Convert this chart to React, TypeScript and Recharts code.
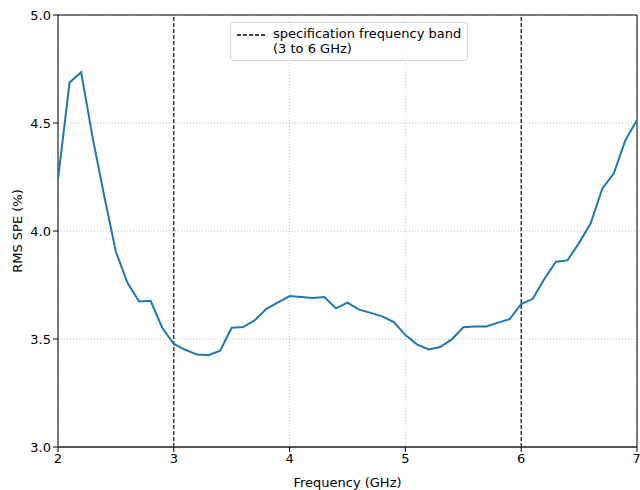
import React from 'react';
import { LineChart, Line, XAxis, YAxis, CartesianGrid, ReferenceLine, Label } from 'recharts';

// frequency sweep, 0.1 GHz steps
const frequency = [
  2.0, 2.1, 2.2, 2.3, 2.4, 2.5, 2.6, 2.7, 2.8, 2.9,
  3.0, 3.1, 3.2, 3.3, 3.4, 3.5, 3.6, 3.7, 3.8, 3.9,
  4.0, 4.1, 4.2, 4.3, 4.4, 4.5, 4.6, 4.7, 4.8, 4.9,
  5.0, 5.1, 5.2, 5.3, 5.4, 5.5, 5.6, 5.7, 5.8, 5.9,
  6.0, 6.1, 6.2, 6.3, 6.4, 6.5, 6.6, 6.7, 6.8, 6.9,
  7.0,
];

const rmsSpe = [
  4.24, 4.687, 4.735, 4.43, 4.16, 3.904, 3.76, 3.674, 3.677, 3.552,
  3.477, 3.45, 3.428, 3.425, 3.446, 3.552, 3.555, 3.587, 3.64, 3.67,
  3.699, 3.695, 3.69, 3.694, 3.642, 3.668, 3.636, 3.621, 3.605, 3.578,
  3.518, 3.475, 3.452, 3.463, 3.498, 3.554, 3.558, 3.558, 3.576, 3.592,
  3.662, 3.686, 3.778, 3.858, 3.864, 3.945, 4.036, 4.196, 4.267, 4.42,
  4.514,
];

const xTicks = [2, 3, 4, 5, 6, 7];
const yTicks = [3.0, 3.5, 4.0, 4.5, 5.0];
const bandEdges = [3, 6];

const data = frequency.map((f, i) => ({ f, spe: rmsSpe[i] }));

const font = 'DejaVu Sans, sans-serif';
const fontSize = 13;
const tickStyle = { fontSize, fill: '#000', fontFamily: font };

const BandLegend = () => (
  <div
    style={{
      position: 'absolute',
      left: 230,
      top: 22,
      border: '1px solid #d6d6d6',
      borderRadius: 3,
      background: 'rgba(255,255,255,0.85)',
      padding: '3px 6px 4px 6px',
      display: 'flex',
      alignItems: 'flex-start',
      fontFamily: font,
      fontSize,
      lineHeight: '15px',
      color: '#000',
    }}
  >
    <svg width={28} height={15} style={{ marginRight: 8, flex: 'none' }}>
      <line x1={0} x2={28} y1={9} y2={9} stroke="#000" strokeWidth={1.3} strokeDasharray="4 2" />
    </svg>
    <div>
      specification frequency band
      <br />
      (3 to 6 GHz)
    </div>
  </div>
);

export default function App() {
  return (
    <div style={{ position: 'absolute', left: 0, top: 0, width: 640, height: 490, background: '#fff' }}>
      <LineChart width={640} height={490} data={data} margin={{ top: 15, right: 3, left: 0, bottom: 0 }}>
        <CartesianGrid stroke="#b0b0b0" strokeDasharray="1 2" strokeWidth={0.8} />
        <XAxis
          dataKey="f"
          type="number"
          domain={[2, 7]}
          ticks={xTicks}
          allowDataOverflow
          height={43}
          tick={tickStyle}
          tickSize={5}
          tickLine={{ stroke: '#000' }}
          axisLine={false}
        >
          <Label value="Frequency (GHz)" position="insideBottom" offset={3} style={{ fontSize, fill: '#000', fontFamily: font }} />
        </XAxis>
        <YAxis
          type="number"
          domain={[3, 5]}
          ticks={yTicks}
          allowDataOverflow
          width={58}
          tick={tickStyle}
          tickSize={5}
          tickLine={{ stroke: '#000' }}
          axisLine={false}
          tickFormatter={(v: number) => v.toFixed(1)}
        >
          <Label
            value="RMS SPE (%)"
            angle={-90}
            position="insideLeft"
            offset={17}
            style={{ fontSize, fill: '#000', fontFamily: font, textAnchor: 'middle' }}
          />
        </YAxis>
        {bandEdges.map((x) => (
          <ReferenceLine key={x} x={x} stroke="#000" strokeWidth={1.1} strokeDasharray="4 2" />
        ))}
        {/* axes frame */}
        <ReferenceLine x={2} stroke="#000" strokeWidth={1} />
        <ReferenceLine x={7} stroke="#000" strokeWidth={1} />
        <ReferenceLine y={5} stroke="#000" strokeWidth={1} />
        <ReferenceLine y={3} stroke="#555" strokeWidth={2} />
        <Line
          type="linear"
          dataKey="spe"
          stroke="#1f77b4"
          strokeWidth={2}
          dot={false}
          isAnimationActive={false}
        />
      </LineChart>
      <BandLegend />
    </div>
  );
}
